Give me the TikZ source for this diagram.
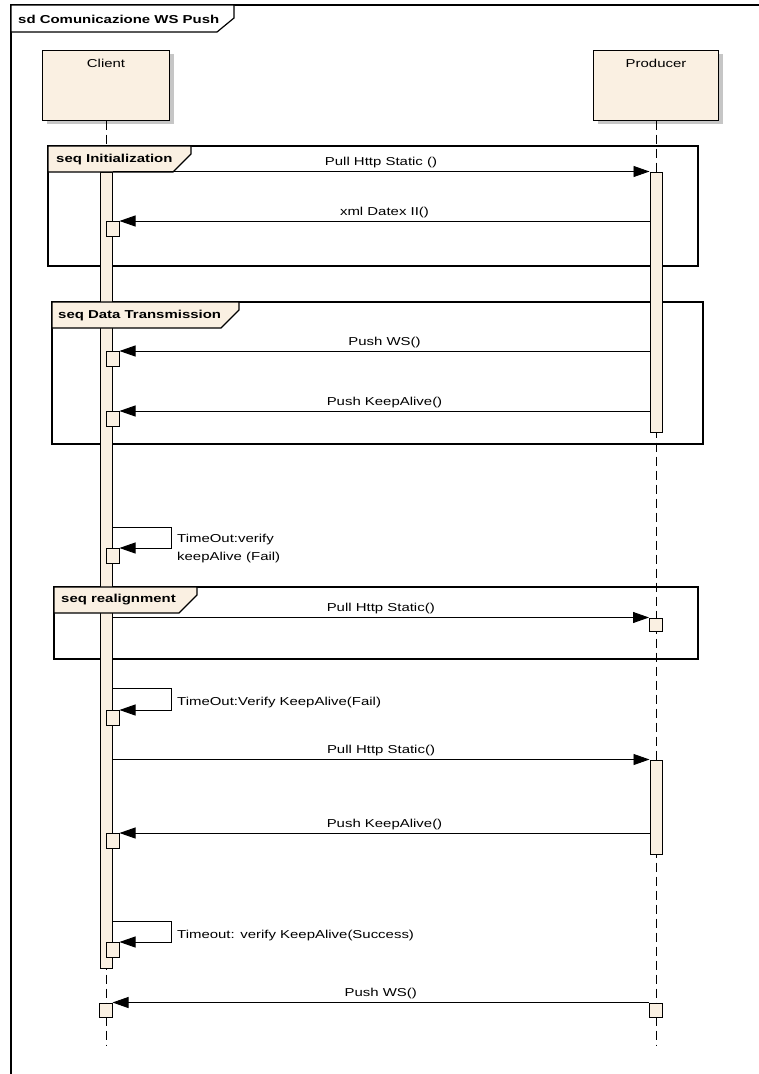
\documentclass[tikz,border=0pt]{standalone}
\usepackage{fontspec}
\setmainfont[FakeStretch=1.3]{Liberation Sans}
\usetikzlibrary{arrows.meta,shadows}
\definecolor{lifefill}{HTML}{FAF0E2}
\definecolor{shade}{HTML}{C6C6C6}
\tikzset{head/.style={draw,line width=1pt,fill=lifefill,minimum height=70pt,inner sep=0pt,drop shadow={shadow xshift=4pt,shadow yshift=-4pt,fill=shade,opacity=1},label={[anchor=north,yshift=-6pt,font=\fontsize{11.5}{14}\selectfont]north:#1}},bar/.style={draw,line width=1pt,fill=lifefill,minimum width=12pt,inner sep=0pt},exec/.style={draw,line width=1pt,fill=lifefill,minimum width=13pt,minimum height=15pt,inner sep=0pt},life/.style={dash pattern=on 9pt off 5pt,line width=0.9pt},frag/.style={draw,line width=1.2pt},tab/.style={draw,line width=1.2pt,fill=lifefill},msg/.style={-{Triangle[length=16pt,width=11pt]},line width=0.9pt,font=\fontsize{11.5}{14}\selectfont},lbl/.style={font=\fontsize{11.5}{18}\selectfont,inner sep=0pt,align=left,anchor=west},title/.style={font=\bfseries\fontsize{11.5}{14}\selectfont,inner sep=0pt,anchor=west}}

\begin{document}
\begin{tikzpicture}[x=1pt,y=-1pt]
\useasboundingbox (0,0) rectangle (759,1074);
\draw[line width=1.2pt] (759.5,5) -- (11,5) -- (11,1074.5);
\draw[tab,fill=white] (11,5) -- (234,5) -- (234,18) -- (217,32) -- (11,32) -- cycle;
\node[title] (sd) at (18,19) {sd Comunicazione WS Push};
\node[head=Client,minimum width=127pt] (client) at (106,85) {};
\node[head=Producer,minimum width=125pt] (producer) at (656,85) {};
\coordinate (end) at (0,1046);
\draw[life] (client.south) -- (client.south |- end);
\draw[life] (producer.south) -- (producer.south |- end);
\draw[frag] (48,146) rectangle (698,266);
\draw[frag] (52,302) rectangle (703,444);
\draw[frag] (54,587) rectangle (698,659);
\node[bar,minimum height=796pt] (cbar) at (106,570) {};
\node[bar,minimum height=260pt] (pbar1) at (656,302) {};
\node[bar,minimum height=94pt] (pbar2) at (656,807) {};
\node[exec,minimum height=13pt] (p1) at (656,624.5) {};
\node[exec,minimum height=14pt] (p2) at (656,1010) {};
\node[exec] (cx1) at (112.5,229) {};
\node[exec] (cx2) at (112.5,359) {};
\node[exec] (cx3) at (112.5,419) {};
\node[exec] (cx4) at (112.5,556) {};
\node[exec] (cx5) at (112.5,718) {};
\node[exec] (cx6) at (112.5,841) {};
\node[exec] (cx7) at (112.5,950) {};
\node[exec,minimum height=14pt] (cx8) at (105.5,1010) {};
\draw[tab] (48,146) -- (191,146) -- (191,154) -- (173,172) -- (48,172) -- cycle;
\node[title] (seqinit) at (56,160) {seq Initialization};
\draw[tab] (52,302) -- (239,302) -- (239,310) -- (221,328) -- (52,328) -- cycle;
\node[title] (seqdata) at (58,316) {seq Data Transmission};
\draw[tab] (54,587) -- (197,587) -- (197,595) -- (179,613) -- (54,613) -- cycle;
\node[title] (seqrealign) at (61,600) {seq realignment};
\draw[msg] (cbar.east |- pbar1.north) -- node[midway,above,inner sep=3pt]{Pull Http Static ()} (pbar1.north west);
\draw[msg] (pbar1.west |- cx1.north) -- node[midway,above,inner sep=3pt]{xml Datex II()} (cx1.north east);
\draw[msg] (pbar1.west |- cx2.north) -- node[midway,above,inner sep=3pt]{Push WS()} (cx2.north east);
\draw[msg] (pbar1.west |- cx3.north) -- node[midway,above,inner sep=3pt]{Push KeepAlive()} (cx3.north east);
\coordinate (s1) at (171,527);
\draw[msg] (cbar.east |- s1) -- (s1) |- (cx4.north east);
\node[lbl] (self1) at (177,549) {TimeOut:verify\\keepAlive (Fail)};
\draw[msg] (cbar.east |- p1.north) -- node[midway,above,inner sep=3pt]{Pull Http Static()} (p1.north west);
\coordinate (s2) at (171,688);
\draw[msg] (cbar.east |- s2) -- (s2) |- (cx5.north east);
\node[lbl] (self2) at (177,703) {TimeOut:Verify KeepAlive(Fail)};
\draw[msg] (cbar.east |- pbar2.north) -- node[midway,above,inner sep=3pt]{Pull Http Static()} (pbar2.north west);
\draw[msg] (pbar2.west |- cx6.north) -- node[midway,above,inner sep=3pt]{Push KeepAlive()} (cx6.north east);
\coordinate (s3) at (171,921);
\draw[msg] (cbar.east |- s3) -- (s3) |- (cx7.north east);
\node[lbl] (self3) at (177,936) {Timeout: verify KeepAlive(Success)};
\draw[msg] (p2.west |- cx8.north) -- node[midway,above,inner sep=3pt]{Push WS()} (cx8.north east);
\end{tikzpicture}
\end{document}
